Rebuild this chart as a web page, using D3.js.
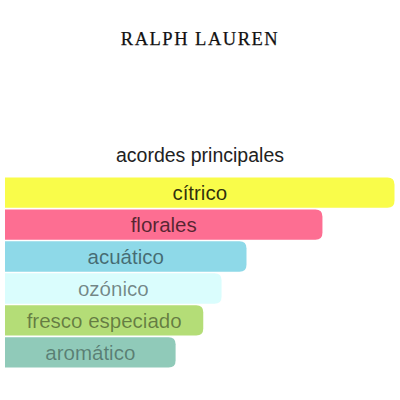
<!DOCTYPE html>
<html lang="es">
<head>
    <meta charset="UTF-8">
    <title>acordes principales</title>
    <script src="https://d3js.org/d3.v7.min.js"></script>
    <style>
        body { margin: 0; background: #fff; }
    </style>
</head>
<body>
<div id="chart"></div>
<script>
    // Accords and their relative strength (percent of the strongest)
    const accords = ['cítrico', 'florales', 'acuático', 'ozónico', 'fresco especiado', 'aromático'];
    const strengths = [100, 81.5, 62, 55.6, 50.9, 43.8];
    const accordColors = ['#f9fc4a', '#fd6e92', '#8ed9e8', '#dafdfd', '#b4dd77', '#90cab9'];

    const brand = 'RALPH LAUREN';
    const title = 'acordes principales';

    const width = 400, height = 400;

    const svg = d3.select('#chart')
        .append('svg')
        .attr('width', width)
        .attr('height', height);

    const data = accords.map((name, i) => ({ name, value: strengths[i] }));

    const x = d3.scaleLinear()
        .domain([0, 100])
        .range([5, 394.5]);

    const y = d3.scaleBand()
        .domain(accords)
        .range([177.5, 367.5])
        .paddingInner(0.05);

    const color = d3.scaleOrdinal()
        .domain(accords)
        .range(accordColors);

    // weaker accords get fainter labels
    const textOpacity = d3.scaleLinear()
        .domain([d3.min(strengths), 100])
        .range([0.38, 0.82]);

    // Brand name
    svg.append('text')
        .attr('x', width / 2)
        .attr('y', 45)
        .attr('text-anchor', 'middle')
        .attr('font-family', '"Liberation Serif", "DejaVu Serif", serif')
        .attr('font-size', 18.5)
        .attr('letter-spacing', 1.5)
        .attr('fill', '#111')
        .attr('stroke', '#111')
        .attr('stroke-width', 0.25)
        .text(brand);

    // Title
    svg.append('text')
        .attr('x', width / 2)
        .attr('y', 162)
        .attr('text-anchor', 'middle')
        .attr('font-family', '"Liberation Sans", Arial, sans-serif')
        .attr('font-size', 19.5)
        .attr('fill', '#222')
        .text(title);

    // Bars with rounded right end, square left end
    const r = 7;
    function barPath(d) {
        const x0 = x(0), x1 = x(d.value);
        const y0 = y(d.name), y1 = y0 + y.bandwidth();
        return `M${x0},${y0}H${x1 - r}Q${x1},${y0} ${x1},${y0 + r}` +
            `V${y1 - r}Q${x1},${y1} ${x1 - r},${y1}H${x0}Z`;
    }

    const bars = svg.selectAll('.bar')
        .data(data)
        .enter()
        .append('g')
        .attr('class', 'bar');

    bars.append('path')
        .attr('d', barPath)
        .attr('fill', d => color(d.name));

    bars.append('text')
        .attr('x', d => (x(0) + x(d.value)) / 2)
        .attr('y', d => y(d.name) + y.bandwidth() / 2)
        .attr('dy', '0.35em')
        .attr('text-anchor', 'middle')
        .attr('font-family', '"Liberation Sans", Arial, sans-serif')
        .attr('font-size', 20.5)
        .attr('fill', '#000')
        .attr('fill-opacity', d => textOpacity(d.value))
        .text(d => d.name);
</script>
</body>
</html>
